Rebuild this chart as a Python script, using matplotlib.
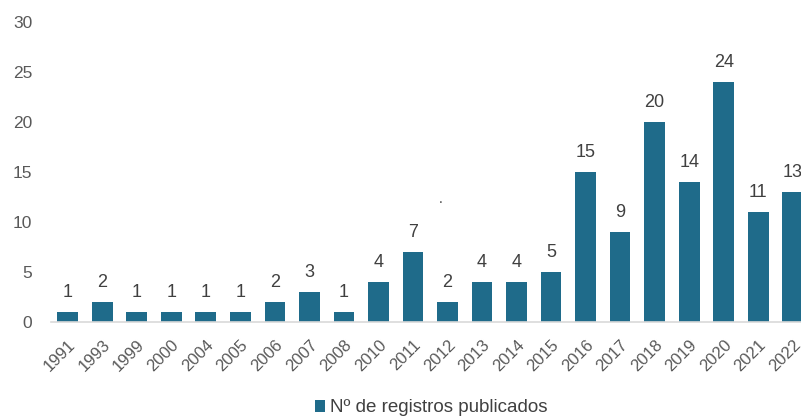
import matplotlib
matplotlib.use("Agg")
import matplotlib.pyplot as plt
import numpy as np

years = ["1991","1993","1999","2000","2004","2005","2006","2007","2008","2010","2011",
         "2012","2013","2014","2015","2016","2017","2018","2019","2020","2021","2022"]
counts = [1,2,1,1,1,1,2,3,1,4,7,2,4,4,5,15,9,20,14,24,11,13]
series_name = "Nº de registros publicados"

plt.rcParams['font.family'] = ['Liberation Sans', 'DejaVu Sans']
color = "#1f6b8a"

fig = plt.figure(figsize=(8.01, 4.16), dpi=100)
W, H = 801, 416
left_px, right_px = 50.5, 810
ax = fig.add_axes([left_px / W, (H - 322) / H, (right_px - left_px) / W, 300 / H])

x = np.arange(len(years))
bars = ax.bar(x, counts, width=0.6, color=color, label=series_name)
for xi, v in zip(x, counts):
    ax.text(xi, v + 1.1, str(v), ha='center', va='bottom', fontsize=13, color="#404040")

ax.set_xlim(-0.5, len(years) - 0.5)
ax.set_ylim(0, 30)
ax.set_yticks(range(0, 31, 5))
ax.set_xticks(x)
ax.set_xticklabels(years, rotation=45, ha='right', rotation_mode='anchor', fontsize=12, color="#595959")
ax.tick_params(axis='y', labelsize=12.5, labelcolor="#595959", length=0, pad=13)
ax.tick_params(axis='x', length=0, pad=11)
for s in ['top', 'right', 'left']:
    ax.spines[s].set_visible(False)
ax.spines['bottom'].set_color("#d9d9d9")
ax.spines['bottom'].set_linewidth(1.2)

ax.text(10.8, 11.6, ".", ha='center', va='bottom', fontsize=10, color="#404040")

fig.legend(handles=[bars], labels=[series_name], loc='center', bbox_to_anchor=(431 / W, (H - 408) / H),
           frameon=False, fontsize=13.5, handlelength=0.55, handleheight=0.55, handletextpad=0.25,
           labelcolor="#404040")

fig.savefig("out.png", dpi=100)
